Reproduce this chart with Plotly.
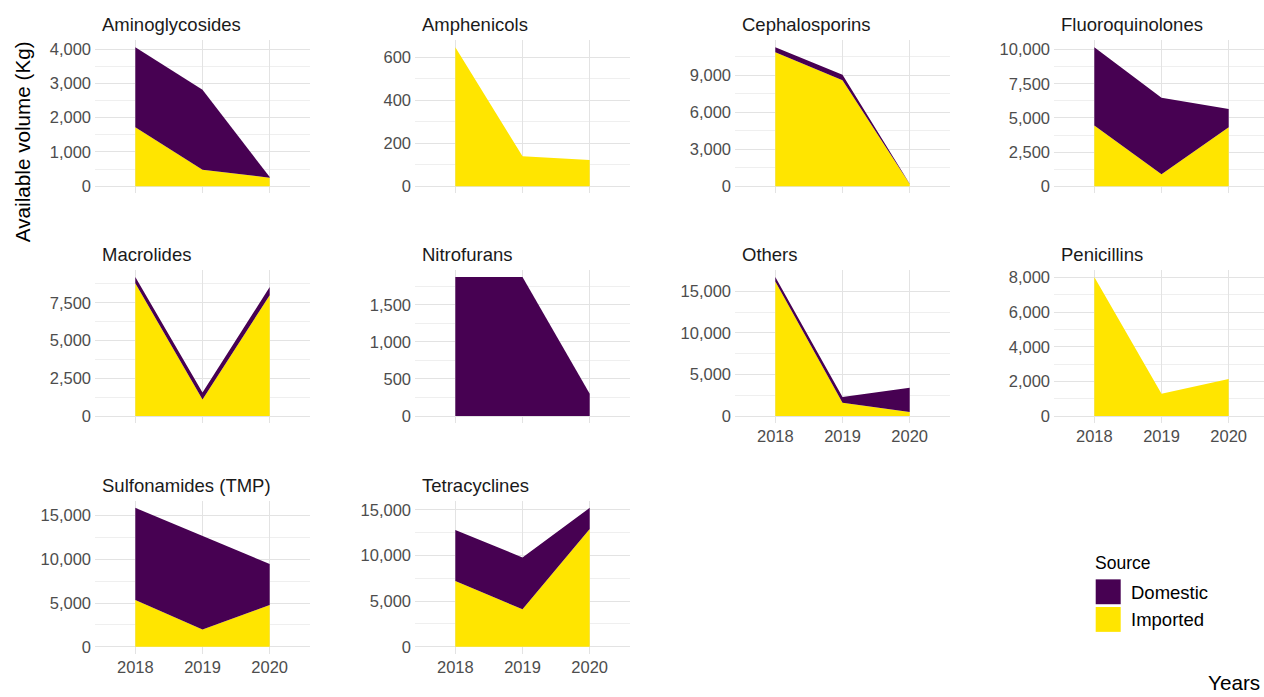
import plotly.graph_objects as go

# Antimicrobial volumes available per year, by class and source (kg)
years = [2018, 2019, 2020]
drug_classes = [
    "Aminoglycosides", "Amphenicols", "Cephalosporins", "Fluoroquinolones",
    "Macrolides", "Nitrofurans", "Others", "Penicillins",
    "Sulfonamides (TMP)", "Tetracyclines",
]
imported_kg = [
    [1720, 480, 250],
    [646, 139, 122],
    [10880, 8600, 180],
    [4440, 870, 4320],
    [8800, 1100, 8000],
    [0, 0, 0],
    [16200, 1600, 480],
    [8035, 1283, 2147],
    [5340, 1970, 4770],
    [7210, 4100, 12900],
]
domestic_kg = [
    [2330, 2330, 20],
    [0, 0, 0],
    [400, 450, 30],
    [5730, 5600, 1330],
    [400, 450, 540],
    [1875, 1875, 300],
    [530, 690, 2930],
    [0, 0, 0],
    [10540, 10680, 4700],
    [5580, 5690, 2320],
]
y_tick_step = [1000, 200, 3000, 2500, 2500, 500, 5000, 2000, 5000, 5000]
source_labels = ["Domestic", "Imported"]

COL_DOMESTIC = "#470152"
COL_IMPORTED = "#FFE500"
FONT = "Liberation Sans, Arial, sans-serif"
GRID_MAJOR = "#E3E3E3"
GRID_MINOR = "#EFEFEF"

W, H = 1264, 697
col_left = [95, 415, 735, 1054]
panel_w = 215
row_top = [38.6, 269.7, 501.8]
panel_h = 153.7
n_cols = 4

fig = go.Figure()
annotations = []
shapes = []

# columns whose lowest panel carries the year labels
bottom_panels = {6, 7, 8, 9}

for i, name in enumerate(drug_classes):
    r, c = divmod(i, n_cols)
    ax = "" if i == 0 else str(i + 1)
    xref, yref = "x" + ax, "y" + ax

    totals = [a + b for a, b in zip(imported_kg[i], domestic_kg[i])]
    ymax = max(totals)

    fig.add_trace(go.Scatter(
        x=years, y=imported_kg[i], stackgroup="s%d" % i, mode="lines",
        line=dict(width=0, color=COL_IMPORTED), fillcolor=COL_IMPORTED,
        name="Imported", showlegend=False, xaxis=xref, yaxis=yref,
        hoverinfo="x+y+name",
    ))
    fig.add_trace(go.Scatter(
        x=years, y=domestic_kg[i], stackgroup="s%d" % i, mode="lines",
        line=dict(width=0, color=COL_DOMESTIC), fillcolor=COL_DOMESTIC,
        name="Domestic", showlegend=False, xaxis=xref, yaxis=yref,
        hoverinfo="x+y+name",
    ))

    left = col_left[c]
    right = min(left + panel_w, W)
    x_lo = years[0] - 0.6
    x_hi = x_lo + (right - left) * 3.2 / panel_w
    top = row_top[r]
    bot = top + panel_h

    fig.layout["xaxis" + ax] = dict(
        domain=[left / W, right / W], anchor=yref, range=[x_lo, x_hi],
        tickvals=years, ticktext=[str(y) for y in years],
        showticklabels=i in bottom_panels, ticks="", ticklabelstandoff=2,
        showgrid=True, gridcolor=GRID_MAJOR, gridwidth=1,
        zeroline=False, showline=False,
        tickfont=dict(family=FONT, size=16.5, color="#4D4D4D"),
    )
    step = y_tick_step[i]
    fig.layout["yaxis" + ax] = dict(
        domain=[1 - bot / H, 1 - top / H], anchor=xref,
        range=[-0.05 * ymax, 1.05 * ymax],
        tick0=0, dtick=step, tickformat=",", ticks="",
        showgrid=True, gridcolor=GRID_MAJOR, gridwidth=1,
        minor=dict(tick0=0, dtick=step / 2, showgrid=True,
                   gridcolor=GRID_MINOR, gridwidth=1),
        zeroline=False, showline=False, ticklabelstandoff=3,
        tickfont=dict(family=FONT, size=16.5, color="#4D4D4D"),
    )

    annotations.append(dict(
        text=name, xref="paper", yref="paper",
        x=(left + 5) / W, y=1 - (top - 15.6) / H,
        xanchor="left", yanchor="middle", showarrow=False,
        font=dict(family=FONT, size=18.5, color="#1A1A1A"),
    ))

# axis titles
annotations.append(dict(
    text="Available volume (Kg)", xref="paper", yref="paper",
    x=22 / W, y=1 - 141 / H, textangle=-90, xanchor="center", yanchor="middle",
    showarrow=False, font=dict(family=FONT, size=20.7, color="#000000"),
))
annotations.append(dict(
    text="Years", xref="paper", yref="paper",
    x=1262 / W, y=1 - 684 / H, xanchor="right", yanchor="middle",
    showarrow=False, font=dict(family=FONT, size=20.7, color="#000000"),
))

# legend
annotations.append(dict(
    text="Source", xref="paper", yref="paper",
    x=1093 / W, y=1 - 564 / H, xanchor="left", yanchor="middle",
    showarrow=False, font=dict(family=FONT, size=17.5, color="#000000"),
))
key_colors = [COL_DOMESTIC, COL_IMPORTED]
key_top = [580.7, 608.5]
for lab, col, kt in zip(source_labels, key_colors, key_top):
    shapes.append(dict(
        type="rect", xref="paper", yref="paper",
        x0=1095.7 / W, x1=1120.7 / W, y0=1 - (kt + 25) / H, y1=1 - kt / H,
        fillcolor=col, line=dict(width=0),
    ))
    annotations.append(dict(
        text=lab, xref="paper", yref="paper",
        x=1129 / W, y=1 - (kt + 12.8) / H, xanchor="left", yanchor="middle",
        showarrow=False, font=dict(family=FONT, size=18.5, color="#000000"),
    ))

fig.update_layout(
    width=W, height=H, margin=dict(l=0, r=0, t=0, b=0),
    paper_bgcolor="white", plot_bgcolor="white",
    annotations=annotations, shapes=shapes, showlegend=False,
    font=dict(family=FONT),
)

fig.write_html("out.html")
